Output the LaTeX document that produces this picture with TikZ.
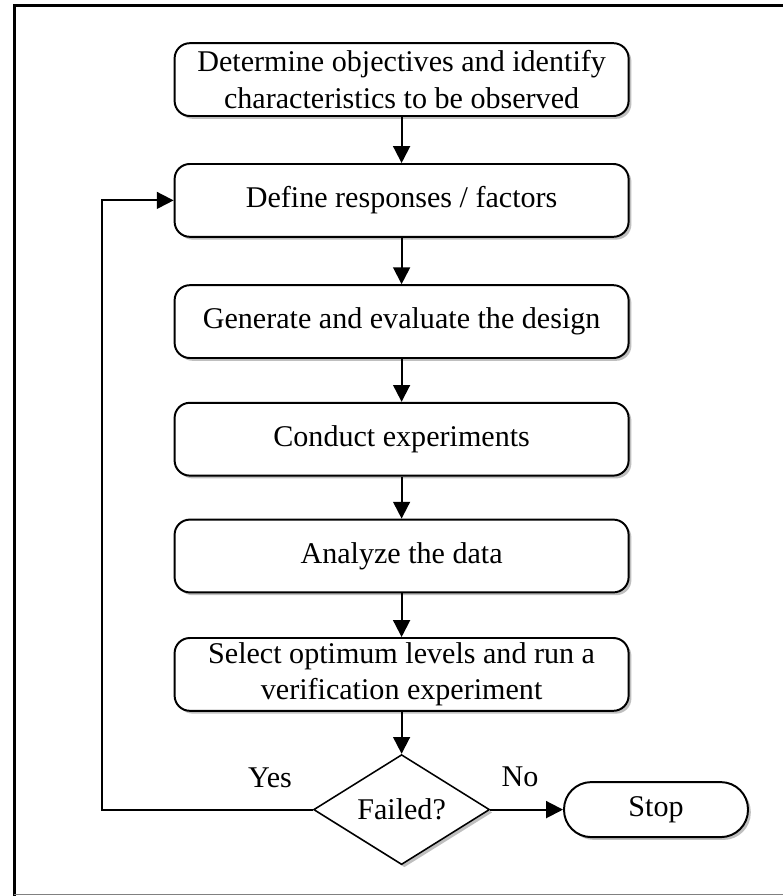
\documentclass[tikz,border=0pt]{standalone}
\usepackage{fontspec}
\setmainfont{Liberation Serif}
\usetikzlibrary{arrows.meta,shapes.geometric,shadows}

\tikzset{
  txt/.style={font=\fontsize{21.4}{25.8}\selectfont},
  shade/.style={drop shadow={shadow xshift=2pt,shadow yshift=-2pt,opacity=0.25,fill=black}},
  stepbox/.style={txt,shade,draw,fill=white,rounded corners=0.38cm,align=center,
    minimum width=11.35cm,minimum height=1.82cm,inner sep=2pt},
  decision/.style={txt,shade,draw,fill=white,diamond,line width=1.1pt,
    minimum width=4.4cm,minimum height=2.75cm,inner sep=0pt},
  stopbox/.style={txt,shade,draw,fill=white,rounded corners=0.68cm,
    minimum width=4.6cm,minimum height=1.375cm},
  lbl/.style={txt,inner sep=1pt}
}

\begin{document}
\begin{tikzpicture}[>={Triangle[length=0.42cm,width=0.42cm]},line width=1.4pt]
\useasboundingbox (0,0) rectangle (19.575,-22.4);
% frame
\draw[line width=2.1pt](0.36,-22.4)--(0.36,-0.14)--(19.575,-0.14);
\draw[gray,line width=0.9pt](0.36,-22.36)--(19.575,-22.36);
% steps
\node[stepbox] (obj) at (10.04,-1.99) {Determine objectives and identify\\characteristics to be observed};
\node[stepbox] (resp) at (10.04,-5.01) {Define responses / factors};
\node[stepbox] (gen) at (10.04,-8.04) {Generate and evaluate the design};
\node[stepbox] (cond) at (10.04,-10.98) {Conduct experiments};
\node[stepbox] (anal) at (10.04,-13.9) {Analyze the data};
\node[stepbox] (sel) at (10.04,-16.86) {Select optimum levels and run a\\verification experiment};
\node[decision] (fail) at (10.04,-20.24) {Failed?};
\node[stopbox] (stop) at (16.4,-20.24) {Stop};
\node[lbl] (yes) at (6.75,-19.45) {Yes};
\node[lbl] (no) at (13.0,-19.43) {No};
\coordinate (loop) at (2.55,-20.24);
% arrows
\draw[->](obj)--(resp);
\draw[->](resp)--(gen);
\draw[->](gen)--(cond);
\draw[->](cond)--(anal);
\draw[->](anal)--(sel);
\draw[->](sel)--(fail);
\draw[->](fail)--(stop);
\draw[->](fail.west)--(loop)|-(resp.west);
\end{tikzpicture}
\end{document}
